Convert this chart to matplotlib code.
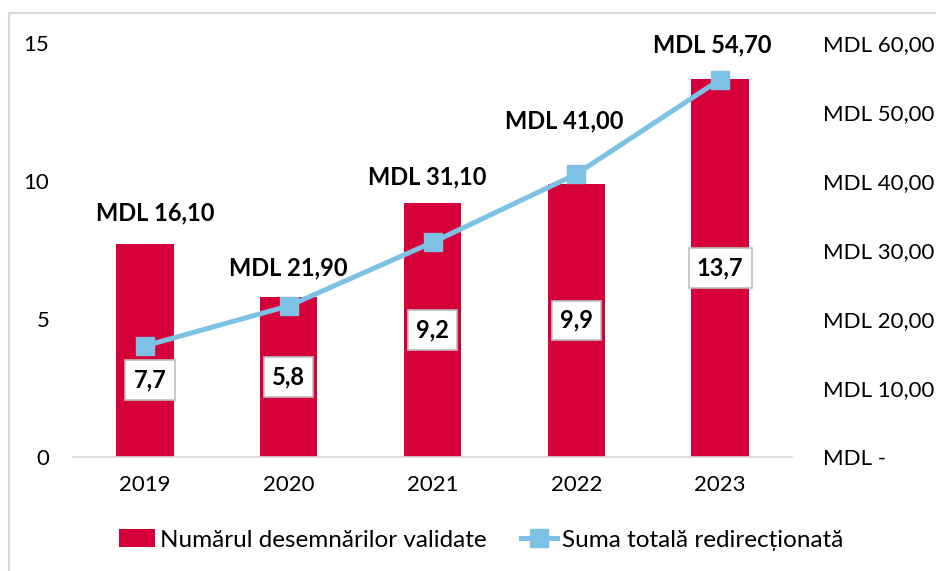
import matplotlib.pyplot as plt
from matplotlib.patches import Rectangle
from matplotlib.ticker import FuncFormatter

plt.rcParams["font.family"] = ["Lato", "DejaVu Sans"]

# Data
years = ["2019", "2020", "2021", "2022", "2023"]
validated = [7.7, 5.8, 9.2, 9.9, 13.7]
amount = [16.10, 21.90, 31.10, 41.00, 54.70]

bar_label_text = ["7,7", "5,8", "9,2", "9,9", "13,7"]
amount_label_text = ["MDL 16,10", "MDL 21,90", "MDL 31,10", "MDL 41,00", "MDL 54,70"]

# label offsets in pixels (layout only)
bar_label_offsets = [(5, -29), (0, 0), (0, 0), (0, 0), (0, 0)]
amount_label_offsets = [(10, 133), (0, 38), (-5, 65), (-12, 53), (-8, 35)]

bar_color = "#D5003A"
line_color = "#7DC1E5"

fig = plt.figure(figsize=(9.36, 5.71), dpi=100)
# chart area border (right and bottom edges fall outside the image)
fig.patches.append(Rectangle((9 / 936, -0.05), 1.0, 1.05 - 13 / 571,
                             transform=fig.transFigure, fill=False,
                             edgecolor="#D9D9D9", linewidth=1.5))

ax = fig.add_axes([73 / 936, 1 - 457 / 571, 719 / 936, 414 / 571])
x = range(len(years))
bars = ax.bar(x, validated, width=0.40, color=bar_color, zorder=2,
              label="Numărul desemnărilor validate")
ax.set_xlim(-0.5, len(years) - 0.5)
ax.set_ylim(0, 15)
ax.set_yticks([0, 5, 10, 15])
ax.set_xticks(list(x))
ax.set_xticklabels(years)

ax2 = ax.twinx()
line, = ax2.plot(x, amount, color=line_color, linewidth=3.6, marker="s",
                 markersize=13, zorder=3, label="Suma totală redirecționată")
ax2.set_ylim(0, 60)
ax2.set_yticks(range(0, 61, 10))
ax2.yaxis.set_major_formatter(
    FuncFormatter(lambda v, p: "MDL -" if v == 0 else "MDL {:.2f}".format(v).replace(".", ",")))

for a in (ax, ax2):
    for s in a.spines.values():
        s.set_visible(False)
    a.tick_params(length=0, colors="black")
ax.spines["bottom"].set_visible(True)
ax.spines["bottom"].set_color("#D9D9D9")
ax.spines["bottom"].set_linewidth(1.2)
ax.tick_params(axis="y", pad=17, labelsize=16)
ax.tick_params(axis="x", pad=13, labelsize=16)
ax2.tick_params(axis="y", pad=22, labelsize=16)

# bar value labels in boxes
for i, v in enumerate(validated):
    dx, dy = bar_label_offsets[i]
    ax2.annotate(bar_label_text[i], xy=(i, v * 2), xycoords=("data", "data"),
                 xytext=(dx, dy), textcoords="offset pixels",
                 ha="center", va="center", fontsize=17, fontweight="bold",
                 zorder=5,
                 bbox=dict(boxstyle="square,pad=0.35", facecolor="white",
                           edgecolor="#BFBFBF", linewidth=1.2))

# amount labels
for i, v in enumerate(amount):
    dx, dy = amount_label_offsets[i]
    ax2.annotate(amount_label_text[i], xy=(i, v), xytext=(dx, dy),
                 textcoords="offset pixels", ha="center", va="center",
                 fontsize=17, fontweight="bold", zorder=5)

fig.legend([bars, line], [bars.get_label(), line.get_label()],
           loc="center", bbox_to_anchor=(481 / 936, 1 - 540 / 571), ncol=2,
           frameon=False, fontsize=17.5, handlelength=1.5, columnspacing=1.4,
           handletextpad=0.2)

fig.savefig("out.png", dpi=100)
